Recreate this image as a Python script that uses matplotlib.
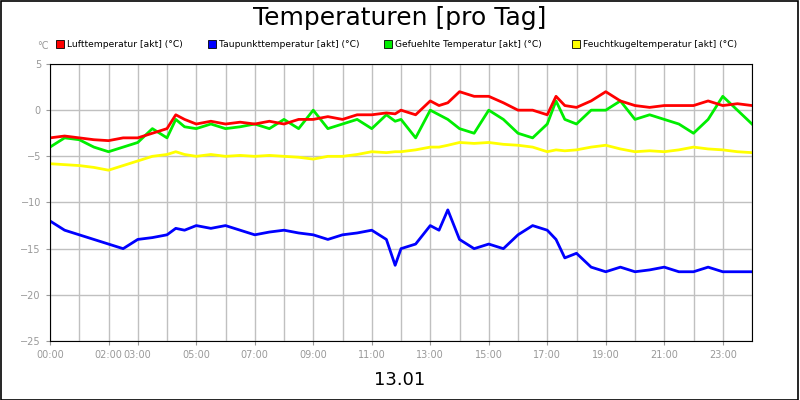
import matplotlib
matplotlib.use("Agg")
import matplotlib.pyplot as plt
from matplotlib.patches import Rectangle

# hours of day and temperatures (°C)
hours = [0, 0.5, 1, 1.5, 2, 2.5, 3, 3.5, 4, 4.3, 4.6, 5, 5.5, 6, 6.5, 7, 7.5, 8, 8.5, 9, 9.5,
         10, 10.5, 11, 11.5, 11.8, 12, 12.5, 13, 13.3, 13.6, 14, 14.5, 15, 15.5, 16, 16.5, 17, 17.3,
         17.6, 18, 18.5, 19, 19.5, 20, 20.5, 21, 21.5, 22, 22.5, 23, 23.5, 24]
luft = [-3.0, -2.8, -3.0, -3.2, -3.3, -3.0, -3.0, -2.5, -2.0, -0.5, -1.0, -1.5, -1.2, -1.5, -1.3,
        -1.5, -1.2, -1.5, -1.0, -1.0, -0.7, -1.0, -0.5, -0.5, -0.3, -0.4, 0.0, -0.5, 1.0, 0.5, 0.8,
        2.0, 1.5, 1.5, 0.8, 0.0, 0.0, -0.5, 1.5, 0.5, 0.3, 1.0, 2.0, 1.0, 0.5, 0.3, 0.5,
        0.5, 0.5, 1.0, 0.5, 0.7, 0.5]
feucht_temp = [-4.0, -3.0, -3.2, -4.0, -4.5, -4.0, -3.5, -2.0, -3.0, -1.0, -1.8, -2.0, -1.5,
               -2.0, -1.8, -1.5, -2.0, -1.0, -2.0, 0.0, -2.0, -1.5, -1.0, -2.0, -0.5, -1.2, -1.0,
               -3.0, 0.0, -0.5, -1.0, -2.0, -2.5, 0.0, -1.0, -2.5, -3.0, -1.5, 1.0, -1.0, -1.5,
               0.0, 0.0, 1.0, -1.0, -0.5, -1.0, -1.5, -2.5, -1.0, 1.5, 0.0, -1.5]
taupunkt = [-12.0, -13.0, -13.5, -14.0, -14.5, -15.0, -14.0, -13.8, -13.5, -12.8, -13.0, -12.5,
            -12.8, -12.5, -13.0, -13.5, -13.2, -13.0, -13.3, -13.5, -14.0, -13.5, -13.3,
            -13.0, -14.0, -16.8, -15.0, -14.5, -12.5, -13.0, -10.8, -14.0, -15.0, -14.5, -15.0,
            -13.5, -12.5, -13.0, -14.0, -16.0, -15.5, -17.0, -17.5, -17.0, -17.5, -17.3,
            -17.0, -17.5, -17.5, -17.0, -17.5, -17.5, -17.5]
kugel = [-5.8, -5.9, -6.0, -6.2, -6.5, -6.0, -5.5, -5.0, -4.8, -4.5, -4.8, -5.0, -4.8, -5.0,
         -4.9, -5.0, -4.9, -5.0, -5.1, -5.3, -5.0, -5.0, -4.8, -4.5, -4.6, -4.5, -4.5, -4.3, -4.0,
         -4.0, -3.8, -3.5, -3.6, -3.5, -3.7, -3.8, -4.0, -4.5, -4.3, -4.4, -4.3, -4.0, -3.8,
         -4.2, -4.5, -4.4, -4.5, -4.3, -4.0, -4.2, -4.3, -4.5, -4.6]

series = [
    ("Lufttemperatur [akt] (°C)", luft, "#ff0000"),
    ("Taupunkttemperatur [akt] (°C)", taupunkt, "#0000ff"),
    ("Gefuehlte Temperatur [akt] (°C)", feucht_temp, "#00ee00"),
    ("Feuchtkugeltemperatur [akt] (°C)", kugel, "#ffff00"),
]
tick_hours = [0, 2, 3, 5, 7, 9, 11, 13, 15, 17, 19, 21, 23]

fig = plt.figure(figsize=(8, 4), dpi=100)
ax = fig.add_axes([0.0625, 0.1475, 0.8775, 0.6925])

# draw so that the air temperature ends up on top
for label, vals, color in reversed(series):
    ax.plot(hours, vals, color=color, lw=2)

ax.set_xlim(0, 24)
ax.set_ylim(-25, 5)
ax.set_yticks(range(-25, 6, 5))
ax.set_xticks(range(0, 25), minor=True)
ax.set_xticks(tick_hours)
ax.set_xticklabels([f"{h:02d}:00" for h in tick_hours])
ax.grid(True, which="both", axis="x", color="#c0c0c0", lw=1)
ax.grid(True, axis="y", color="#c0c0c0", lw=1)
ax.set_axisbelow(True)
ax.tick_params(labelsize=7, colors="#999999", length=3)
ax.tick_params(which="minor", length=0)
for s in ax.spines.values():
    s.set_color("black")

fig.text(0.5, 0.955, "Temperaturen [pro Tag]", ha="center", va="center", fontsize=18)
fig.text(0.047, 0.885, "°C", fontsize=7, color="#999999", ha="left", va="center")
xs = [0.07, 0.26, 0.48, 0.715]
for x, (label, vals, color) in zip(xs, series):
    fig.patches.append(Rectangle((x, 0.88), 0.01, 0.02, transform=fig.transFigure,
                                 facecolor=color, edgecolor="black", lw=0.6))
    fig.text(x + 0.014, 0.889, label, fontsize=6.6, va="center", ha="left")
fig.text(0.5, 0.05, "13.01", ha="center", va="center", fontsize=13)
fig.patches.append(Rectangle((0.001, 0.001), 0.997, 0.996, transform=fig.transFigure,
                             fill=False, edgecolor="black", lw=1.2))

fig.savefig("out.png", dpi=100)
